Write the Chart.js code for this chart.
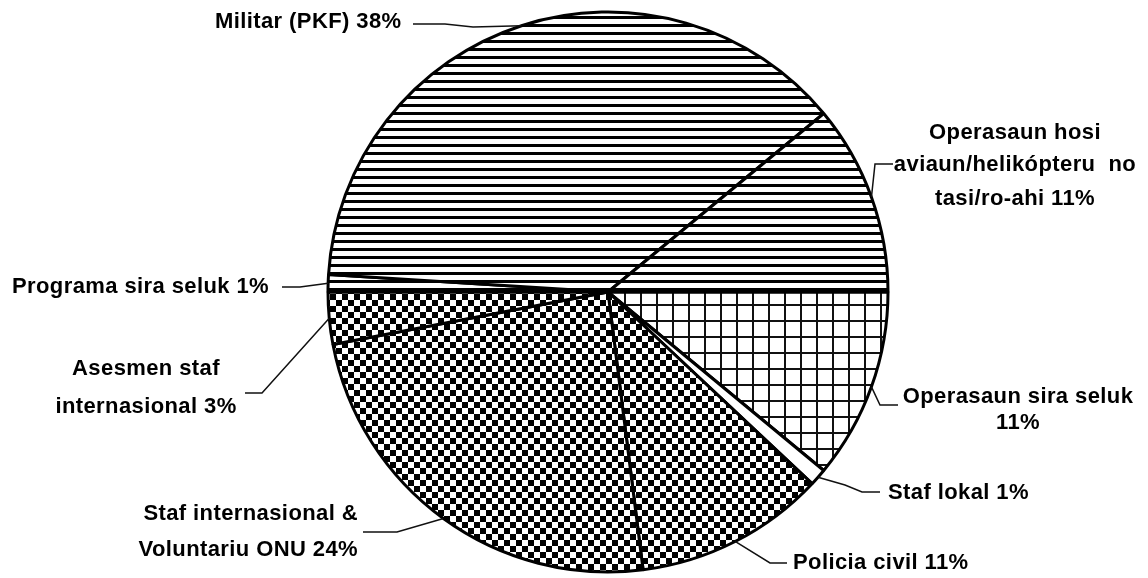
<!DOCTYPE html>
<html>
<head>
<meta charset="utf-8">
<script src="https://cdn.jsdelivr.net/npm/chart.js@4/dist/chart.umd.min.js"></script>
<style>
  html, body { margin: 0; padding: 0; background: #fff; }
  #wrap { width: 1148px; height: 578px; }
</style>
</head>
<body>
<div id="wrap"><canvas id="pie" width="1148" height="578"></canvas></div>
<script>
// slice order, clockwise from 3 o'clock
const categories = [
  ['Operasaun sira seluk', ''],
  ['Staf lokal'],
  ['Policia civil'],
  ['Staf internasional &', 'Voluntariu ONU'],
  ['Asesmen staf', 'internasional'],
  ['Programa sira seluk'],
  ['Militar (PKF)'],
  ['Operasaun hosi', 'aviaun/helikópteru  no', 'tasi/ro-ahi']
];
const shares = [11, 1, 11, 24, 3, 1, 38, 11];
const fills = ['grid', 'white', 'checker', 'checker', 'checker', 'lines', 'lines', 'lines'];

// label placement: block anchor x, text align, line baselines (middle), leader elbow points
const labelLayout = [
  { x: 1018, align: 'center', ys: [397, 423], path: [[880, 405], [898, 405]] },
  { x: 888, align: 'left', ys: [493], path: [[845, 485], [862, 492], [880, 492]] },
  { x: 793, align: 'left', ys: [563], path: [[770, 563], [787, 563]] },
  { x: 358, align: 'right', ys: [514, 550], path: [[397, 532], [363, 532]] },
  { x: 146, align: 'center', ys: [369, 407], path: [[262, 393], [245, 393]] },
  { x: 12, align: 'left', ys: [287], path: [[300, 287], [282, 287]] },
  { x: 215, align: 'left', ys: [22], path: [[473, 27], [445, 24], [413, 24]] },
  { x: 1015, align: 'center', ys: [133, 165, 199], path: [[875, 164], [893, 164]] }
];

function makePattern(kind) {
  if (kind === 'white') return '#ffffff';
  const c = document.createElement('canvas');
  const g = c.getContext('2d');
  if (kind === 'lines') {
    c.width = 8; c.height = 8;
    g.fillStyle = '#fff'; g.fillRect(0, 0, 8, 8);
    g.fillStyle = '#000'; g.fillRect(0, 0, 8, 3);
  } else if (kind === 'checker') {
    c.width = 12; c.height = 12;
    g.fillStyle = '#fff'; g.fillRect(0, 0, 12, 12);
    g.fillStyle = '#000';
    g.fillRect(0, 0, 6, 6);
    g.fillRect(6, 6, 6, 6);
  } else if (kind === 'grid') {
    c.width = 16; c.height = 16;
    g.fillStyle = '#fff'; g.fillRect(0, 0, 16, 16);
    g.fillStyle = '#111';
    g.fillRect(0, 0, 16, 2);
    g.fillRect(0, 0, 2, 16);
  }
  return g.createPattern(c, 'repeat');
}

function labelLines(i) {
  const lines = categories[i].slice();
  const last = lines.length - 1;
  lines[last] = (lines[last] ? lines[last] + ' ' : '') + shares[i] + '%';
  return lines;
}

const calloutPlugin = {
  id: 'callouts',
  afterDraw(chart) {
    const ctx = chart.ctx;
    const meta = chart.getDatasetMeta(0);
    ctx.save();
    meta.data.forEach((arc, i) => {
      const p = arc.getProps(['x', 'y', 'startAngle', 'endAngle', 'outerRadius'], true);
      const mid = (p.startAngle + p.endAngle) / 2;
      const ax = p.x + Math.cos(mid) * p.outerRadius;
      const ay = p.y + Math.sin(mid) * p.outerRadius;
      const lay = labelLayout[i];

      ctx.strokeStyle = '#111';
      ctx.lineWidth = 1.5;
      ctx.beginPath();
      ctx.moveTo(ax, ay);
      lay.path.forEach(pt => ctx.lineTo(pt[0], pt[1]));
      ctx.stroke();

      ctx.fillStyle = '#000';
      ctx.font = 'bold 22px "Liberation Sans", Arial, sans-serif';
      if ('letterSpacing' in ctx) ctx.letterSpacing = '0.4px';
      ctx.textAlign = lay.align;
      ctx.textBaseline = 'middle';
      labelLines(i).forEach((t, k) => ctx.fillText(t, lay.x, lay.ys[k]));
    });
    ctx.restore();
  }
};

new Chart(document.getElementById('pie'), {
  type: 'pie',
  data: {
    labels: categories,
    datasets: [{
      data: shares,
      backgroundColor: fills.map(makePattern),
      borderColor: '#000',
      borderWidth: 3,
      radius: 280
    }]
  },
  options: {
    responsive: false,
    devicePixelRatio: 1,
    animation: false,
    rotation: 90,
    layout: { padding: { left: 68, right: 0, top: 6, bottom: 0 } },
    plugins: {
      legend: { display: false },
      tooltip: { enabled: false }
    }
  },
  plugins: [calloutPlugin]
});
</script>
</body>
</html>
